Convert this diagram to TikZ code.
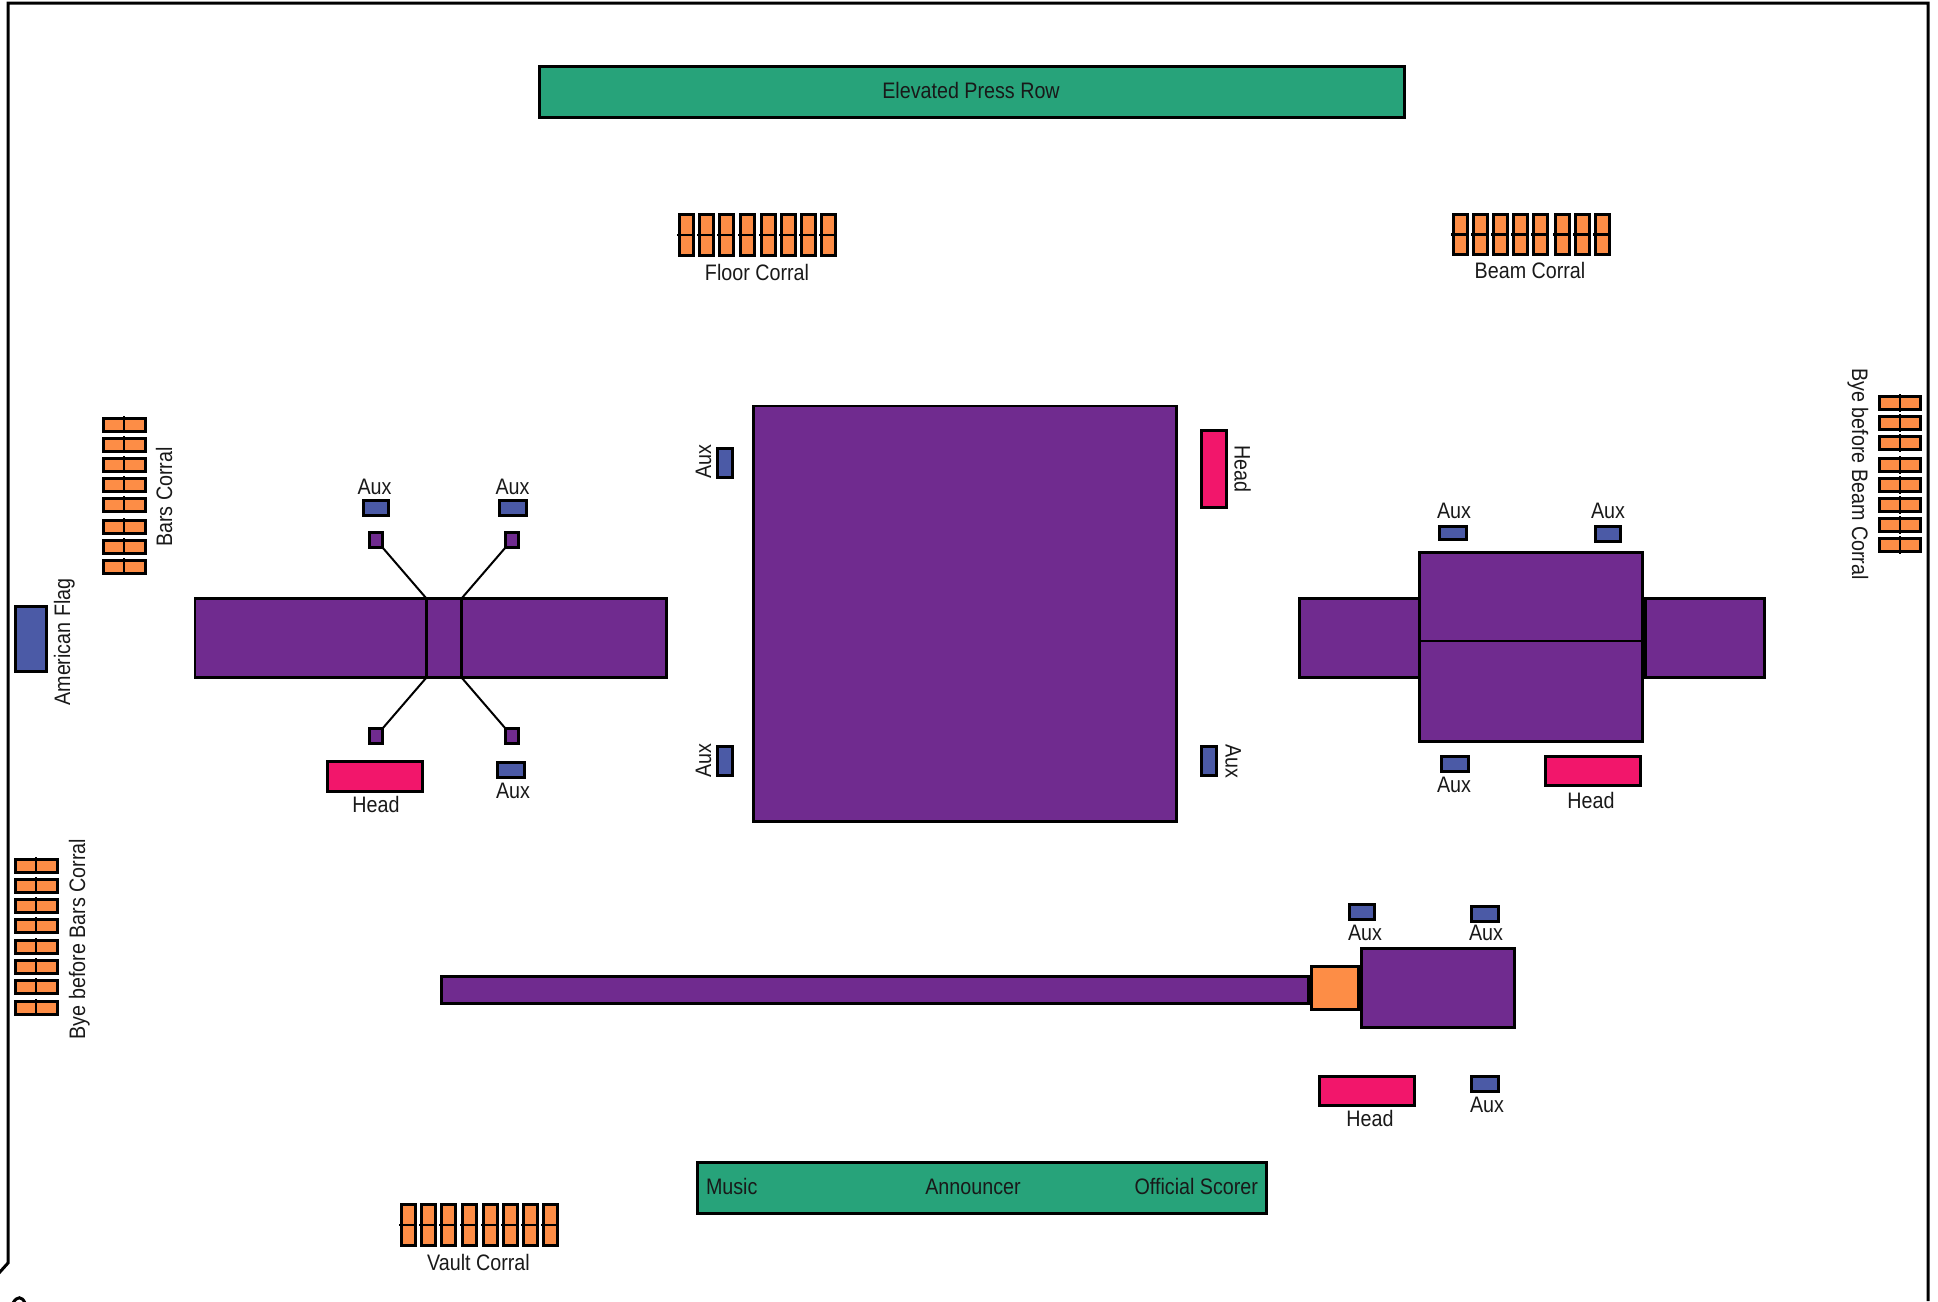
\documentclass[tikz,border=0pt]{standalone}
\usepackage{fontspec}
\setmainfont[FakeStretch=0.88]{Liberation Sans}
\definecolor{vpurple}{HTML}{702B8F}
\definecolor{vblue}{HTML}{4B5AA6}
\definecolor{vorange}{HTML}{FD8D46}
\definecolor{vpink}{HTML}{F2166B}
\definecolor{vgreen}{HTML}{27A37A}
\tikzset{
  shapebox/.style={draw=black,line width=2.6pt,rectangle,inner sep=0pt,outer sep=0pt},
  purplebox/.style={shapebox,fill=vpurple},
  bluebox/.style={shapebox,fill=vblue},
  orangebox/.style={shapebox,fill=vorange},
  pinkbox/.style={shapebox,fill=vpink},
  greenbox/.style={shapebox,fill=vgreen},
  lab/.style={inner sep=0pt,outer sep=0pt,anchor=base,text=black!90,font=\fontsize{22.4}{24}\selectfont},
  midline/.style={draw=black,line width=2.2pt},
  frameline/.style={draw=black,line width=3pt},
  linkline/.style={draw=black,line width=2pt}
}
% style, name, x1, y1, x2, y2 (outer bounds in reference pixels)
\newcommand{\rb}[6]{%
  \pgfmathsetmacro{\rbw}{#5-#3-2.6}%
  \pgfmathsetmacro{\rbh}{#6-#4-2.6}%
  \pgfmathsetmacro{\rbx}{(#3+#5)/2}%
  \pgfmathsetmacro{\rby}{(#4+#6)/2}%
  \node[#1,minimum width=\rbw pt,minimum height=\rbh pt] (#2) at (\rbx,\rby) {};%
}
% name, x list, y1, y2: row of split stalls
\newcommand{\hcorral}[4]{%
  \foreach \cx in {#2} {%
    \pgfmathsetmacro{\cxe}{\cx+16.5}%
    \rb{orangebox}{#1\cx}{\cx}{#3}{\cxe}{#4}%
    \draw[midline] ([xshift=-2pt]#1\cx.west) -- ([xshift=2pt]#1\cx.east);%
  }%
}
% name, x1, x2, y list, height: column of split stalls
\newcommand{\vcorral}[5]{%
  \foreach \cy in {#4} {%
    \pgfmathsetmacro{\cye}{\cy+#5}%
    \rb{orangebox}{#1\cy}{#2}{\cy}{#3}{\cye}%
    \draw[midline] ([yshift=2pt]#1\cy.north) -- ([yshift=-2pt]#1\cy.south);%
  }%
}
\begin{document}
\begin{tikzpicture}[x=1pt,y=-1pt]
\useasboundingbox (0,0) rectangle (1938,1301);
% frame
\coordinate (fA) at (1928,1301);
\coordinate (fB) at (1928,3);
\coordinate (fC) at (8,3);
\coordinate (fD) at (8,1263);
\coordinate (fE) at (-1,1273);
\draw[frameline] (fA) -- (fB) -- (fC) -- (fD) -- (fE);
\coordinate (mA) at (13,1303);
\coordinate (mB) at (25,1303);
\draw[frameline] (mA) .. controls (17,1296) and (22,1296) .. (mB);

% press row
\rb{greenbox}{press}{538}{65}{1406}{119}
\node[lab] (presslab) at (971,98) {Elevated Press Row};

% corrals
\hcorral{floor}{678,698,718,739,760,780,800,820}{213}{257}
\node[lab] (floorlab) at (757,280) {Floor Corral};
\hcorral{beam}{1452,1472,1492,1512,1532,1554,1574,1594}{213}{256}
\node[lab] (beamlab) at (1530,278) {Beam Corral};
\hcorral{vault}{400,420,440,461,482,502,522,542}{1203}{1247}
\node[lab] (vaultlab) at (478.5,1270.5) {Vault Corral};
\vcorral{bars}{102}{146.5}{417,437,457,477,497,519,539,559}{15.5}
\node[lab,rotate=90] (barslab) at (172,497) {Bars Corral};
\vcorral{byebeam}{1878}{1922}{395,415,435,457,477,497,517,537}{16}
\node[lab,rotate=-90] (byebeamlab) at (1852,474) {Bye before Beam Corral};
\vcorral{byebars}{14}{58.5}{858,878,898,918,939,959,979,1000}{15.5}
\node[lab,rotate=90] (byebarslab) at (85,939) {Bye before Bars Corral};

% flag
\rb{bluebox}{flag}{14}{605}{48}{673}
\node[lab,rotate=90] (flaglab) at (70,642) {American Flag};

% left apparatus
\rb{purplebox}{lbar}{193.5}{597}{668}{679}
\rb{purplebox}{lmid}{425}{597}{463}{679}
\rb{purplebox}{ltl}{368}{531}{384}{549}
\rb{purplebox}{ltr}{504}{531}{520}{549}
\rb{purplebox}{lbl}{368}{727}{384}{745}
\rb{purplebox}{lbr}{504}{727}{520}{745}
\draw[linkline] (ltl.south east) -- (lmid.north west);
\draw[linkline] (ltr.south west) -- (lmid.north east);
\draw[linkline] (lbl.north east) -- (lmid.south west);
\draw[linkline] (lbr.north west) -- (lmid.south east);
\rb{bluebox}{lauxa}{362}{499}{390}{517}
\node[lab] (lauxalab) at (374.5,494) {Aux};
\rb{bluebox}{lauxb}{498}{499}{528}{517}
\node[lab] (lauxblab) at (512.5,494) {Aux};
\rb{pinkbox}{lhead}{326}{760}{424}{793}
\node[lab] (lheadlab) at (376,812) {Head};
\rb{bluebox}{lauxc}{496}{761}{526}{779}
\node[lab] (lauxclab) at (513,798.5) {Aux};

% centre floor
\rb{purplebox}{cfloor}{752}{404.5}{1178}{823}
\rb{bluebox}{cauxa}{716}{447}{734}{479}
\node[lab,rotate=90] (cauxalab) at (711,462) {Aux};
\rb{bluebox}{cauxb}{716}{745}{734}{777}
\node[lab,rotate=90] (cauxblab) at (711,761) {Aux};
\rb{pinkbox}{chead}{1200}{429}{1228}{509}
\node[lab,rotate=-90] (cheadlab) at (1234.5,469) {Head};
\rb{bluebox}{cauxc}{1200}{745}{1218}{777}
\node[lab,rotate=-90] (cauxclab) at (1225.5,761) {Aux};

% right apparatus
\rb{purplebox}{rbarl}{1298}{597}{1421}{679}
\rb{purplebox}{rbarr}{1644}{597}{1766}{679}
\rb{purplebox}{rtop}{1418}{551}{1644}{642.3}
\rb{purplebox}{rbot}{1418}{639.7}{1644}{743}
\rb{bluebox}{rauxa}{1438}{525}{1468}{541}
\node[lab] (rauxalab) at (1454,518.5) {Aux};
\rb{bluebox}{rauxb}{1594}{525}{1622}{543}
\node[lab] (rauxblab) at (1608,518.5) {Aux};
\rb{bluebox}{rauxc}{1440}{755}{1470}{773}
\node[lab] (rauxclab) at (1454,792.5) {Aux};
\rb{pinkbox}{rhead}{1544}{755}{1642}{787}
\node[lab] (rheadlab) at (1591,808.5) {Head};

% vault
\rb{purplebox}{runway}{440}{975}{1310}{1005}
\rb{orangebox}{vorangebox}{1310}{965}{1360}{1011}
\rb{purplebox}{vtable}{1360}{947}{1516}{1029}
\rb{bluebox}{vauxa}{1348}{903}{1376}{921}
\node[lab] (vauxalab) at (1365,940.5) {Aux};
\rb{bluebox}{vauxb}{1470}{905}{1500}{923}
\node[lab] (vauxblab) at (1486,940.5) {Aux};
\rb{pinkbox}{vhead}{1318}{1075}{1416}{1107}
\node[lab] (vheadlab) at (1370,1126) {Head};
\rb{bluebox}{vauxc}{1470}{1075}{1500}{1093}
\node[lab] (vauxclab) at (1487,1112.5) {Aux};

% scorer table
\rb{greenbox}{scorer}{696}{1161}{1268}{1215}
\node[lab,anchor=base west] (musiclab) at (706,1194) {Music};
\node[lab] (annlab) at (973,1194) {Announcer};
\node[lab,anchor=base east] (offlab) at (1258,1194) {Official Scorer};
\end{tikzpicture}
\end{document}
